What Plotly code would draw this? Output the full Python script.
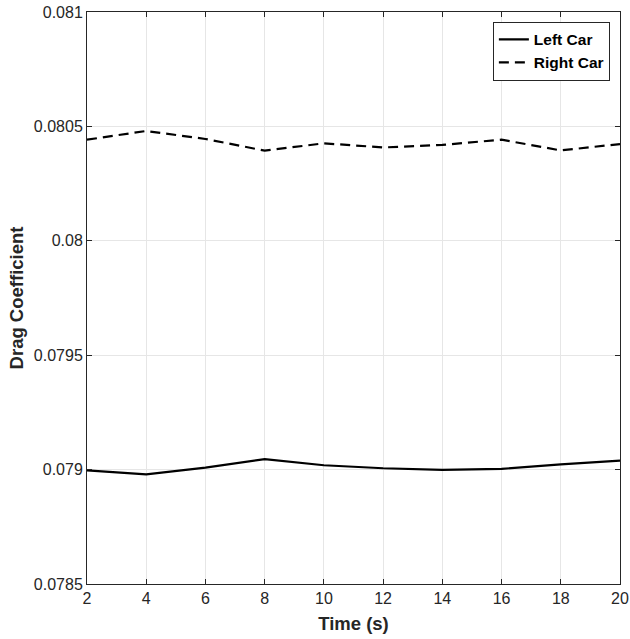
import plotly.graph_objects as go

time_s = [2, 4, 6, 8, 10, 12, 14, 16, 18, 20]
left_car = [0.078997, 0.078979, 0.079009, 0.079046, 0.079019, 0.079006, 0.078999, 0.079003, 0.079023, 0.079039]
right_car = [0.080442, 0.080480, 0.080445, 0.080394, 0.080426, 0.080408, 0.080419, 0.080442, 0.080395, 0.080423]

x_ticks = [2, 4, 6, 8, 10, 12, 14, 16, 18, 20]
y_ticks = [0.0785, 0.079, 0.0795, 0.08, 0.0805, 0.081]
y_tick_text = ["0.0785", "0.079", "0.0795", "0.08", "0.0805", "0.081"]

FONT = "Liberation Sans, Arial, sans-serif"
AX = "#262626"

fig = go.Figure()
fig.add_trace(go.Scatter(x=time_s, y=left_car, mode="lines", name="<b>Left Car</b>",
                         line=dict(color="black", width=2.2)))
fig.add_trace(go.Scatter(x=time_s, y=right_car, mode="lines", name="<b>Right Car</b>",
                         line=dict(color="black", width=2.2, dash="10px,6px")))

axis_common = dict(
    showline=True, linecolor=AX, linewidth=1, mirror="ticks",
    ticks="inside", ticklen=5, tickcolor=AX, tickwidth=1,
    showgrid=True, gridcolor="#e6e6e6", gridwidth=1, zeroline=False,
    tickfont=dict(family=FONT, size=16, color=AX),
    automargin=False,
)

fig.update_xaxes(range=[2, 20], tickvals=x_ticks,
                 title=dict(text="<b>Time (s)</b>", font=dict(family=FONT, size=18.5, color=AX), standoff=10),
                 **axis_common)
fig.update_yaxes(range=[0.0785, 0.081], tickvals=y_ticks, ticktext=y_tick_text,
                 title=dict(text="<b>Drag Coefficient</b>", font=dict(family=FONT, size=18.5, color=AX), standoff=5),
                 **axis_common)

fig.update_layout(
    width=630, height=639,
    margin=dict(l=87, r=10, t=12, b=55),
    paper_bgcolor="white", plot_bgcolor="white",
    font=dict(family=FONT, color="black"),
    legend=dict(x=0.981, y=0.983, xanchor="right", yanchor="top",
                bgcolor="white", bordercolor=AX, borderwidth=1,
                font=dict(family=FONT, size=15.5, color="black"),
                tracegroupgap=0, itemwidth=30),
    showlegend=True,
)

# remove the default 8px page margin so the figure sits at the window's corner
fig.write_html("out.html", config={"displayModeBar": False},
               post_script="document.body.style.margin='0px';")
